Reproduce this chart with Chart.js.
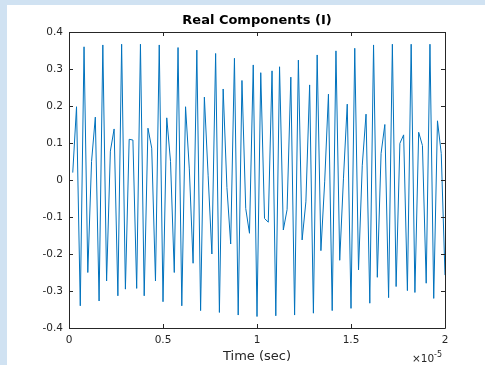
<!DOCTYPE html>
<html>
<head>
<meta charset="utf-8">
<script src="https://cdn.jsdelivr.net/npm/chart.js@4"></script>
<style>
  html, body { margin: 0; padding: 0; background: #d0e2f2; width: 485px; height: 365px; overflow: hidden; }
  #wrap { position: absolute; left: 7px; top: 5px; right: 0; bottom: 0; background: #fff; }
</style>
</head>
<body>
<div id="wrap"><canvas id="chart" width="478" height="360"></canvas></div>
<script>
// Real part (I) samples
var realI = [
  0.02, 0.198, -0.34, 0.36, -0.25, 0.05, 0.17, -0.327, 0.365, -0.273,
  0.078, 0.138, -0.313, 0.367, -0.295, 0.11, 0.108, -0.293, 0.367, -0.313,
  0.14, 0.086, -0.273, 0.365, -0.329, 0.168, 0.05, -0.25, 0.358, -0.34,
  0.198, 0.03, -0.225, 0.351, -0.353, 0.224, 0.013, -0.2, 0.342, -0.358,
  0.246, -0.02, -0.173, 0.329, -0.365, 0.269, -0.077, -0.144, 0.311, -0.369,
  0.29, -0.104, -0.114, 0.295, -0.367, 0.306, -0.135, -0.08, 0.278, -0.365,
  0.324, -0.162, -0.059, 0.257, -0.36, 0.338, -0.191, -0.005, 0.232, -0.353,
  0.349, -0.217, 0.005, 0.205, -0.347, 0.356, -0.243, 0.04, 0.178, -0.333,
  0.365, -0.263, 0.072, 0.15, -0.318, 0.367, -0.288, 0.099, 0.122, -0.299,
  0.367, -0.304, 0.129, 0.093, -0.279, 0.367, -0.32, 0.16, 0.072, -0.257
];
// time axis in units of 1e-5 s (sample period 0.2 us)
var samplePeriod = 0.02;
var timeAxis = realI.map(function (v, i) { return (i + 1) * samplePeriod; });
var xTicks = [0, 0.5, 1, 1.5, 2];
var yTicks = [-0.4, -0.3, -0.2, -0.1, 0, 0.1, 0.2, 0.3, 0.4];

var points = realI.map(function (v, i) { return { x: timeAxis[i], y: v }; });

var textColor = '#262626';
var fontFamily = 'DejaVu Sans, sans-serif';

// box, inward ticks and the MATLAB style texts
var matlabAxes = {
  id: 'matlabAxes',
  afterDraw: function (chart) {
    var ctx = chart.ctx;
    var a = chart.chartArea;
    var xs = chart.scales.x, ys = chart.scales.y;
    var t = 4;
    ctx.save();
    ctx.strokeStyle = textColor;
    ctx.lineWidth = 1;
    ctx.beginPath();
    ctx.rect(Math.round(a.left) + 0.5, Math.round(a.top) + 0.5,
             Math.round(a.right - a.left), Math.round(a.bottom - a.top));
    xTicks.forEach(function (v) {
      var px = Math.round(xs.getPixelForValue(v)) + 0.5;
      ctx.moveTo(px, a.bottom); ctx.lineTo(px, a.bottom - t);
      ctx.moveTo(px, a.top); ctx.lineTo(px, a.top + t);
    });
    yTicks.forEach(function (v) {
      var py = Math.round(ys.getPixelForValue(v)) + 0.5;
      ctx.moveTo(a.left, py); ctx.lineTo(a.left + t, py);
      ctx.moveTo(a.right, py); ctx.lineTo(a.right - t, py);
    });
    ctx.stroke();

    var cx = (a.left + a.right) / 2;
    ctx.fillStyle = '#000';
    ctx.textAlign = 'center';
    ctx.textBaseline = 'middle';
    ctx.font = 'bold 13px ' + fontFamily;
    ctx.fillText('Real Components (I)', cx, 16);

    ctx.fillStyle = textColor;
    ctx.font = '13px ' + fontFamily;
    ctx.fillText('Time (sec)', cx, a.bottom + 29);

    // x10^-5 exponent
    ctx.textAlign = 'left';
    ctx.font = '10.5px ' + fontFamily;
    ctx.fillText('\u00d710', a.right - 33, a.bottom + 31);
    ctx.font = '8px ' + fontFamily;
    ctx.fillText('-5', a.right - 11, a.bottom + 27);
    ctx.restore();
  }
};

new Chart(document.getElementById('chart').getContext('2d'), {
  type: 'line',
  data: {
    datasets: [{
      data: points,
      borderColor: '#0072BD',
      borderWidth: 1,
      pointRadius: 0,
      tension: 0,
      fill: false
    }]
  },
  options: {
    responsive: false,
    animation: false,
    layout: { padding: { top: 27, right: 40, left: 0, bottom: 0 } },
    plugins: { legend: { display: false }, title: { display: false }, tooltip: { enabled: false } },
    scales: {
      x: {
        type: 'linear',
        min: 0, max: 2,
        afterBuildTicks: function (s) { s.ticks = xTicks.map(function (v) { return { value: v }; }); },
        afterFit: function (s) { s.height = 37; },
        grid: { display: false, drawTicks: false, tickLength: 0 },
        border: { display: false },
        ticks: {
          color: textColor, font: { family: fontFamily, size: 10.5 }, padding: 6,
          maxRotation: 0, autoSkip: false,
          callback: function (v) { return String(v); }
        }
      },
      y: {
        min: -0.4, max: 0.4,
        afterBuildTicks: function (s) { s.ticks = yTicks.map(function (v) { return { value: v }; }); },
        afterFit: function (s) { s.width = 62; },
        grid: { display: false, drawTicks: false, tickLength: 0 },
        border: { display: false },
        ticks: {
          color: textColor, font: { family: fontFamily, size: 10.5 }, padding: 6, autoSkip: false,
          callback: function (v) { return String(Math.round(v * 10) / 10); }
        }
      }
    }
  },
  plugins: [matlabAxes]
});
</script>
</body>
</html>
